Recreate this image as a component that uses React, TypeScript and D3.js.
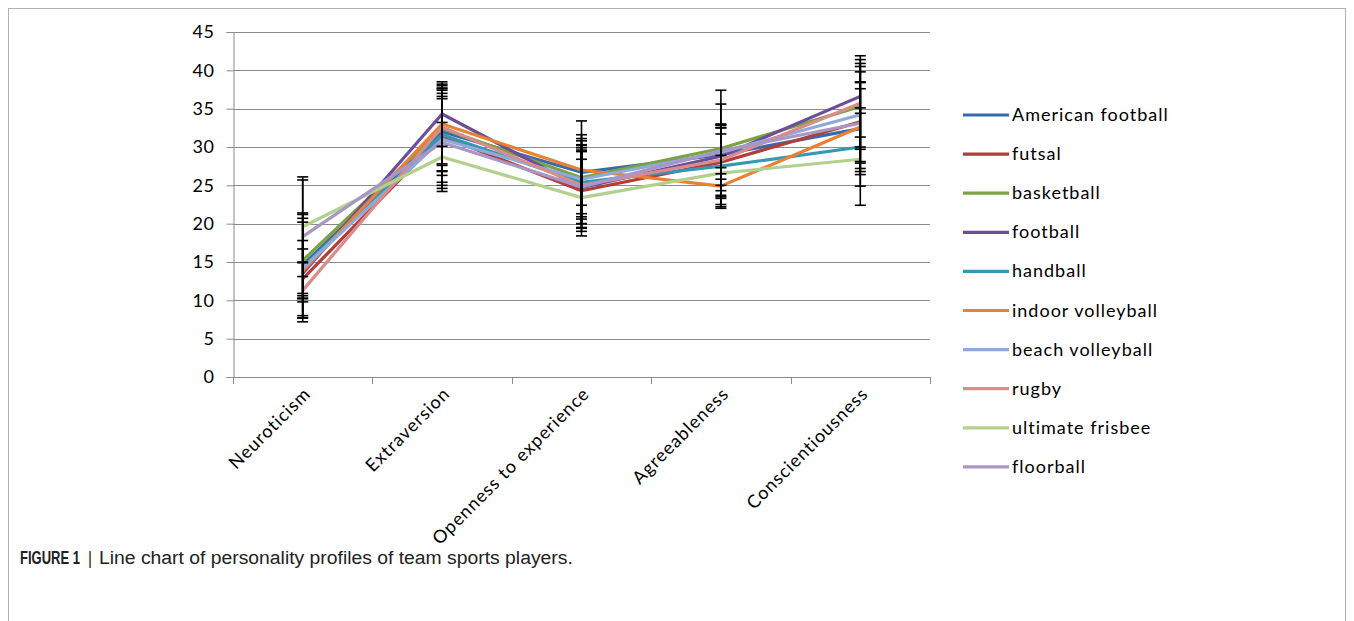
import React, { useEffect, useRef } from 'react';
import * as d3 from 'd3';

// big five traits on the x axis
const traits = ['Neuroticism', 'Extraversion', 'Openness to experience', 'Agreeableness', 'Conscientiousness'];

const sports = ['American football', 'futsal', 'basketball', 'football', 'handball',
  'indoor volleyball', 'beach volleyball', 'rugby', 'ultimate frisbee', 'floorball'];

const colors = ['#3a6aad', '#b23d39', '#7ca342', '#6c4d9c', '#3199b4',
  '#e98033', '#8eaadb', '#d98c8b', '#b3d18e', '#a797c6'];

// mean scores per sport (same order as traits)
const americanFootball = [14.6, 32.0, 26.7, 29.0, 32.4];
const futsal = [12.8, 31.4, 24.3, 28.0, 33.3];
const basketball = [15.2, 32.4, 26.0, 29.8, 35.3];
const football = [13.5, 34.3, 24.7, 28.8, 36.6];
const handball = [14.3, 31.6, 25.4, 27.5, 30.0];
const indoorVolleyball = [13.8, 33.0, 27.0, 24.9, 32.6];
const beachVolleyball = [14.2, 31.0, 25.8, 29.3, 34.2];
const rugby = [11.3, 32.6, 25.0, 28.3, 35.7];
const ultimateFrisbee = [19.6, 28.7, 23.4, 26.6, 28.4];
const floorball = [18.3, 30.6, 24.8, 29.5, 33.1];

// standard deviations (error bars)
const sdAmericanFootball = [6.6, 5.7, 6.7, 4.0, 5.2];
const sdFutsal = [2.2, 6.0, 5.3, 4.5, 5.2];
const sdBasketball = [5.0, 5.6, 5.1, 7.6, 5.6];
const sdFootball = [3.2, 4.2, 5.2, 6.8, 5.3];
const sdHandball = [7.1, 4.7, 5.4, 4.2, 5.1];
const sdIndoorVolleyball = [4.0, 5.2, 4.6, 2.4, 5.8];
const sdBeachVolleyball = [6.5, 6.0, 4.5, 3.5, 6.3];
const sdRugby = [3.6, 5.0, 4.4, 4.6, 5.7];
const sdUltimateFrisbee = [6.5, 4.5, 5.0, 2.3, 6.0];
const sdFloorball = [7.4, 6.0, 5.4, 3.0, 6.7];

const means = [americanFootball, futsal, basketball, football, handball,
  indoorVolleyball, beachVolleyball, rugby, ultimateFrisbee, floorball];
const sds = [sdAmericanFootball, sdFutsal, sdBasketball, sdFootball, sdHandball,
  sdIndoorVolleyball, sdBeachVolleyball, sdRugby, sdUltimateFrisbee, sdFloorball];

const yTicks = [0, 5, 10, 15, 20, 25, 30, 35, 40, 45];

const labelFont = 'Lato, "Open Sans", sans-serif';

export default function App() {
  const ref = useRef<SVGSVGElement>(null);

  useEffect(() => {
    const svg = d3.select(ref.current);
    svg.selectAll('*').remove();

    const x = d3.scaleBand().domain(traits).range([233, 930]).padding(0);
    const cx = (t: string) => (x(t) as number) + x.bandwidth() / 2;
    const y = d3.scaleLinear().domain([0, 45]).range([377, 32]);

    // figure frame
    svg.append('rect')
      .attr('x', 8.5).attr('y', 8.5)
      .attr('width', 1337).attr('height', 700)
      .attr('fill', 'none').attr('stroke', '#b0b0b0');

    // gridlines
    svg.append('g').selectAll('line')
      .data(yTicks.slice(1))
      .enter().append('line')
      .attr('x1', 233).attr('x2', 930)
      .attr('y1', d => Math.round(y(d)) + 0.5)
      .attr('y2', d => Math.round(y(d)) + 0.5)
      .attr('stroke', '#8c8c8c').attr('stroke-width', 1);

    // y axis
    const yAxis = d3.axisLeft(y).tickValues(yTicks).tickSize(7).tickPadding(12);
    const gy = svg.append('g').attr('transform', 'translate(233.5,0)').call(yAxis);
    gy.select('.domain').attr('stroke', '#8c8c8c');
    gy.selectAll('.tick line').attr('stroke', '#8c8c8c');
    gy.selectAll('text')
      .attr('font-family', labelFont).attr('font-size', 18).attr('fill', '#000')
      .attr('letter-spacing', 0.5);

    // x axis line and between-category ticks
    svg.append('line')
      .attr('x1', 233).attr('x2', 930).attr('y1', 377.5).attr('y2', 377.5)
      .attr('stroke', '#8c8c8c');
    const bounds = traits.map(t => x(t) as number).concat([930]);
    svg.append('g').selectAll('line')
      .data(bounds)
      .enter().append('line')
      .attr('x1', d => Math.round(d) + 0.5).attr('x2', d => Math.round(d) + 0.5)
      .attr('y1', 377).attr('y2', 384)
      .attr('stroke', '#8c8c8c');

    // rotated category labels
    svg.append('g').selectAll('text')
      .data(traits)
      .enter().append('text')
      .attr('transform', d => `translate(${cx(d) + 9},${395}) rotate(-45)`)
      .attr('text-anchor', 'end')
      .attr('font-family', labelFont).attr('font-size', 18)
      .attr('letter-spacing', 1)
      .text(d => d);

    // series lines
    const line = d3.line<number>()
      .x((d, i) => cx(traits[i]))
      .y(d => y(d));

    svg.append('g').selectAll('path')
      .data(means)
      .enter().append('path')
      .attr('d', d => line(d))
      .attr('fill', 'none')
      .attr('stroke', (d, i) => colors[i])
      .attr('stroke-width', 3.2)
      .attr('stroke-linejoin', 'round');

    // error bars
    const bars: { x: number; lo: number; hi: number }[] = [];
    means.forEach((m, s) => {
      m.forEach((v, i) => {
        bars.push({ x: cx(traits[i]), lo: v - sds[s][i], hi: v + sds[s][i] });
      });
    });
    const eb = svg.append('g').attr('stroke', '#000').attr('stroke-width', 1.6);
    eb.selectAll('.stem')
      .data(bars)
      .enter().append('line')
      .attr('x1', d => d.x).attr('x2', d => d.x)
      .attr('y1', d => y(d.lo)).attr('y2', d => y(d.hi));
    eb.selectAll('.cap')
      .data(bars.flatMap(b => [{ x: b.x, v: b.lo }, { x: b.x, v: b.hi }]))
      .enter().append('line')
      .attr('x1', d => d.x - 5.5).attr('x2', d => d.x + 5.5)
      .attr('y1', d => y(d.v)).attr('y2', d => y(d.v));

    // legend
    const lg = svg.append('g').selectAll('g')
      .data(sports)
      .enter().append('g')
      .attr('transform', (d, i) => `translate(963,${115 + i * 39.1})`);
    lg.append('line')
      .attr('x1', 0).attr('x2', 46)
      .attr('stroke', (d, i) => colors[i])
      .attr('stroke-width', 3.2);
    lg.append('text')
      .attr('x', 49).attr('y', 6)
      .attr('font-family', labelFont).attr('font-size', 18)
      .attr('letter-spacing', 1)
      .text(d => d);

    // caption: squeeze the text horizontally to the condensed look of the original
    const fitText = (str: string, x0: number, width: number, bold: boolean) => {
      const t = svg.append('text')
        .attr('font-family', '"Liberation Sans", Arial, sans-serif')
        .attr('font-size', 18).attr('fill', '#222')
        .attr('font-weight', bold ? 'bold' : 'normal')
        .text(str);
      const len = (t.node() as SVGTextElement).getComputedTextLength() || width;
      t.attr('transform', `translate(${x0},564) scale(${width / len},1)`);
    };
    fitText('FIGURE 1', 20, 60, true);
    fitText('|', 88, 4, false);
    fitText('Line chart of personality profiles of team sports players.', 99, 474, false);
  }, []);

  return (
    <svg ref={ref} width={1354} height={621}
      style={{ position: 'absolute', left: 0, top: 0, background: '#fff' }} />
  );
}
